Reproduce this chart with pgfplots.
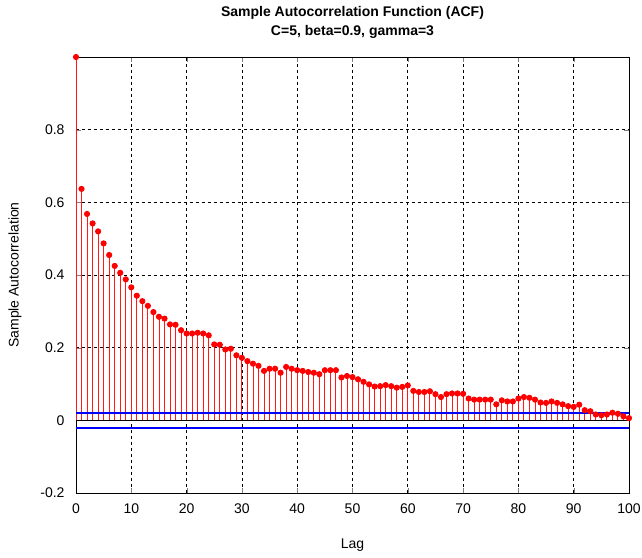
\documentclass[border=0pt]{standalone}
\usepackage{fontspec}
\setmainfont{Liberation Sans}
\usepackage{pgfplots}
\pgfplotsset{compat=1.18}
\begin{document}
\begin{tikzpicture}
\useasboundingbox (-76pt,-64pt) rectangle (566pt,493pt);
\begin{axis}[
  scale only axis,
  width=553pt, height=436pt,
  xmin=0, xmax=100, ymin=-0.2, ymax=1.0,
  xtick={0,10,...,100},
  ytick={-0.2,0,0.2,0.4,0.6,0.8},
  yticklabels={-0.2,0,0.2,0.4,0.6,0.8},
  /pgf/number format/assume math mode=true,
  tick align=inside,
  major tick length=5pt,
  axis line style={black, line width=0.9pt},
  grid=major,
  grid style={black, line width=0.8pt, dash pattern=on 3pt off 3pt},
  tick label style={font=\fontsize{14}{16}\selectfont},
  xticklabel style={yshift=-7pt},
  yticklabel style={xshift=-8pt},
  xlabel={Lag},
  ylabel={Sample Autocorrelation},
  every axis x label/.style={at={(axis description cs:0.5,0)}, anchor=center, yshift=-52pt, font=\fontsize{14}{16}\selectfont},
  every axis y label/.style={at={(axis description cs:0,0.5)}, xshift=-61pt, anchor=center, rotate=90, font=\fontsize{14}{16}\selectfont},
  title={Sample Autocorrelation Function (ACF)\\C=5, beta=0.9, gamma=3},
  title style={font=\bfseries\fontsize{14}{19}\selectfont, align=center, at={(axis description cs:0.5,1)}, anchor=center, yshift=29pt},
  clip=false,
]
\addplot[ycomb, red!90!white, line width=0.9pt, mark=*, mark size=2.6pt, mark options={fill=red, draw=red}] table {
x y
0 1.0
1 0.637
2 0.568
3 0.542
4 0.520
5 0.487
6 0.455
7 0.425
8 0.406
9 0.388
10 0.366
11 0.343
12 0.328
13 0.315
14 0.298
15 0.285
16 0.280
17 0.264
18 0.263
19 0.248
20 0.239
21 0.239
22 0.241
23 0.239
24 0.234
25 0.209
26 0.208
27 0.195
28 0.197
29 0.179
30 0.172
31 0.163
32 0.156
33 0.150
34 0.136
35 0.142
36 0.142
37 0.131
38 0.147
39 0.142
40 0.138
41 0.136
42 0.133
43 0.131
44 0.127
45 0.138
46 0.138
47 0.138
48 0.118
49 0.122
50 0.119
51 0.113
52 0.106
53 0.099
54 0.093
55 0.094
56 0.097
57 0.094
58 0.090
59 0.092
60 0.096
61 0.081
62 0.078
63 0.078
64 0.080
65 0.072
66 0.064
67 0.072
68 0.074
69 0.074
70 0.073
71 0.060
72 0.057
73 0.057
74 0.057
75 0.057
76 0.044
77 0.055
78 0.052
79 0.052
80 0.060
81 0.064
82 0.062
83 0.057
84 0.049
85 0.048
86 0.052
87 0.048
88 0.044
89 0.039
90 0.037
91 0.043
92 0.028
93 0.025
94 0.016
95 0.014
96 0.016
97 0.021
98 0.018
99 0.011
100 0.006
};
\addplot[black, line width=0.7pt] coordinates {(0,0) (100,0)};
\addplot[blue, line width=1.8pt] coordinates {(0,0.02) (100,0.02)};
\addplot[blue, line width=1.8pt] coordinates {(0,-0.02) (100,-0.02)};
\end{axis}
\end{tikzpicture}
\end{document}
